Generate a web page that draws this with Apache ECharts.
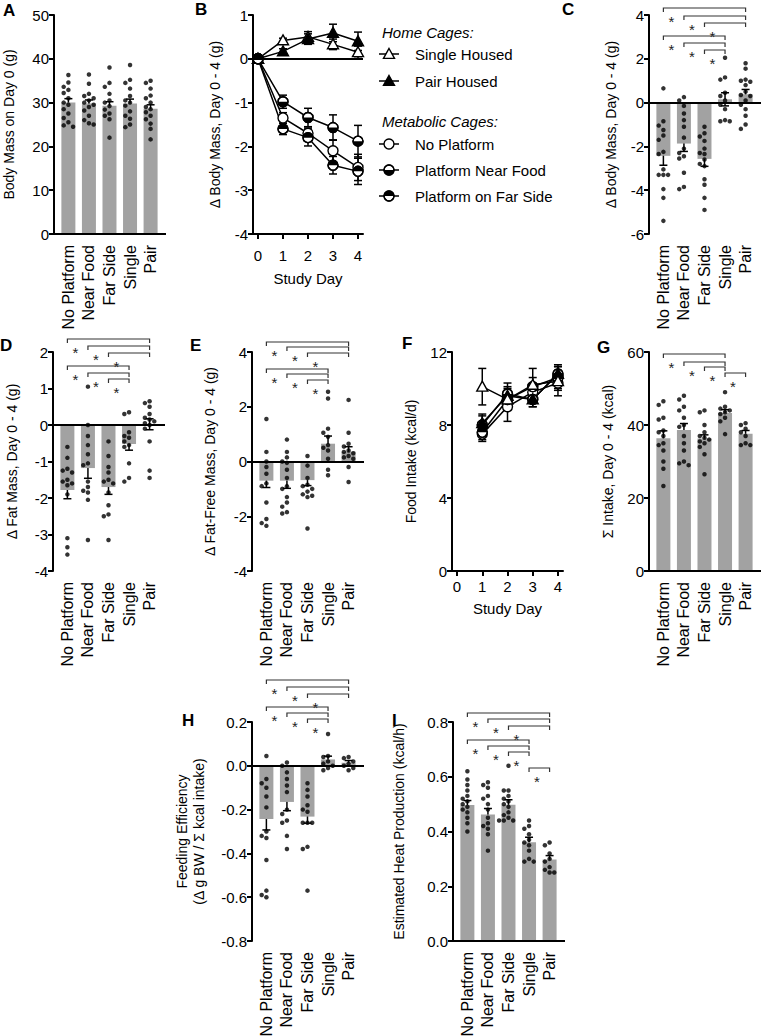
<!DOCTYPE html>
<html>
<head>
<meta charset="utf-8">
<script src="https://cdn.jsdelivr.net/npm/echarts@6/dist/echarts.min.js"></script>
<style>
  html, body { margin: 0; padding: 0; background: #fff; }
  #chart { width: 763px; height: 1036px; }
</style>
</head>
<body>
<div id="chart"></div>
<script>
const groups = ['No Platform', 'Near Food', 'Far Side', 'Single', 'Pair']
const days = [0, 1, 2, 3, 4]
const intakeDays = [1, 2, 3, 4]

// A - body mass day 0
const day0Mass = [30.0, 29.8, 29.3, 29.8, 28.6]
const day0MassSem = [0.9, 0.8, 0.9, 1.0, 0.9]
const day0MassDots = [
  [36.3, 34.6, 33.6, 32.9, 32.2, 31.0, 30.0, 29.5, 28.5, 27.5, 26.5, 25.5, 24.8, 24.5],
  [36.4, 34.3, 32.0, 31.5, 31.0, 30.5, 30.0, 29.5, 29.0, 28.2, 27.0, 26.0, 25.3, 25.0],
  [38.0, 34.5, 33.6, 32.0, 30.5, 30.0, 29.2, 28.4, 27.5, 27.0, 26.2, 22.0],
  [38.6, 35.2, 34.5, 33.2, 31.5, 30.5, 30.0, 29.3, 28.0, 27.0, 26.3, 25.0, 24.4],
  [35.0, 34.5, 33.2, 31.6, 31.0, 30.0, 29.0, 28.5, 27.8, 27.0, 26.2, 25.2, 24.0, 21.6]
]

// B - body mass change over days
const bwSingle = [0, 0.42, 0.50, 0.33, 0.15]
const bwSingleSem = [0, 0.05, 0.12, 0.12, 0.14]
const bwPair = [0, 0.17, 0.45, 0.59, 0.40]
const bwPairSem = [0, 0.06, 0.12, 0.2, 0.21]
const bwNoPlatform = [0, -1.35, -1.70, -2.10, -2.48]
const bwNoPlatformSem = [0, 0.12, 0.12, 0.25, 0.3]
const bwNearFood = [0, -0.98, -1.34, -1.57, -1.88]
const bwNearFoodSem = [0, 0.15, 0.21, 0.29, 0.36]
const bwFarSide = [0, -1.6, -1.8, -2.43, -2.57]
const bwFarSideSem = [0, 0.13, 0.19, 0.2, 0.3]

// C - body mass change day 0-4
const dMass = [-2.43, -1.87, -2.57, 0.15, 0.38]
const dMassSem = [0.43, 0.36, 0.34, 0.3, 0.22]
const dMassDots = [
  [0.65, -0.85, -1.05, -1.25, -1.5, -1.7, -2.25, -2.35, -3.05, -3.3, -3.3, -3.3, -3.95, -4.35, -5.4],
  [0.25, 0.1, -0.15, -0.5, -0.8, -1.1, -1.6, -2.1, -2.3, -2.45, -2.55, -3.2, -3.85, -3.95],
  [-1.1, -1.4, -1.55, -1.75, -2.1, -2.3, -2.35, -2.6, -2.8, -2.9, -3.5, -3.75, -4.35, -4.9],
  [2.05, 1.15, 1.05, 0.45, 0.3, 0.1, -0.1, -0.3, -0.8, -0.85, -0.85],
  [1.8, 1.55, 1.05, 1.0, 0.95, 0.8, 0.5, 0.35, 0.3, 0.1, -0.1, -0.3, -0.6, -1.0, -1.2]
]

// D - fat mass change
const dFat = [-1.78, -1.18, -1.7, -0.52, 0.02]
const dFatSem = [0.24, 0.28, 0.2, 0.17, 0.15]
const dFatDots = [
  [-0.6, -0.9, -1.2, -1.25, -1.3, -1.5, -1.55, -1.6, -1.65, -1.9, -3.1, -3.35, -3.55],
  [1.05, 0.0, -0.3, -0.55, -0.8, -1.05, -1.1, -1.55, -1.7, -1.8, -1.85, -2.05, -3.15],
  [-0.45, -0.85, -1.15, -1.3, -1.5, -1.55, -1.6, -1.85, -2.2, -2.45, -2.5, -3.15],
  [0.35, 0.3, -0.2, -0.3, -0.35, -0.45, -0.55, -0.6, -1.05, -1.45, -1.55],
  [0.65, 0.6, 0.5, 0.3, 0.2, 0.15, 0.1, 0.05, 0.0, -0.1, -0.45, -1.25, -1.45]
]

// E - fat-free mass change
const dLean = [-0.7, -0.7, -0.68, 0.65, 0.36]
const dLeanSem = [0.25, 0.28, 0.2, 0.28, 0.18]
const dLeanDots = [
  [1.55, 0.35, 0.0, -0.2, -0.45, -0.8, -0.9, -1.5, -2.1, -2.25, -2.35],
  [0.8, 0.35, 0.15, 0.0, -0.05, -0.3, -0.6, -0.9, -1.0, -1.3, -1.5, -1.65, -1.85, -1.9],
  [0.2, -0.15, -0.6, -0.85, -0.9, -1.0, -1.1, -1.2, -1.25, -1.3, -2.45],
  [2.55, 2.3, 1.2, 1.05, 0.9, 0.6, 0.5, 0.4, 0.1, -0.3, -0.5],
  [2.25, 1.05, 0.65, 0.55, 0.4, 0.35, 0.3, 0.2, 0.15, 0.1, -0.2, -0.75]
]

// F - daily food intake
const fiSingle = [10.1, 9.4, 10.2, 10.4]
const fiSingleSem = [1.0, 0.6, 0.9, 0.5]
const fiPair = [8.1, 9.6, 9.4, 10.8]
const fiPairSem = [0.5, 0.5, 0.4, 0.4]
const fiNoPlatform = [7.5, 9.0, 9.8, 10.3]
const fiNoPlatformSem = [0.4, 0.8, 0.5, 0.7]
const fiNearFood = [8.0, 9.7, 9.4, 10.8]
const fiNearFoodSem = [0.5, 0.6, 0.4, 0.5]
const fiFarSide = [7.6, 9.4, 10.1, 10.6]
const fiFarSideSem = [0.4, 0.5, 0.5, 0.6]

// G - cumulative intake
const sumIntake = [36.4, 38.6, 36.3, 43.3, 37.6]
const sumIntakeSem = [2.0, 1.8, 1.0, 0.9, 0.9]
const sumIntakeDots = [
  [46.5, 45.5, 42, 41.5, 38.5, 38, 37, 35, 34.5, 33, 30, 28, 23.3],
  [48, 47, 45, 44, 42, 40, 39.5, 37, 35, 33, 30, 29.5, 29],
  [44, 43.5, 40, 38, 37, 36.5, 36, 35.5, 35, 34, 32, 26.5],
  [49, 45, 44.5, 44, 43.5, 43, 42, 41, 37.5],
  [40.5, 40, 39, 38, 37, 35, 34.5, 34.5]
]

// H - feeding efficiency
const feedEff = [-0.243, -0.165, -0.232, 0.029, 0.014]
const feedEffSem = [0.05, 0.04, 0.03, 0.015, 0.01]
const feedEffDots = [
  [0.045, -0.06, -0.08, -0.1, -0.14, -0.19, -0.3, -0.32, -0.33, -0.43, -0.57, -0.59, -0.6],
  [0.015, 0.0, -0.03, -0.06, -0.09, -0.12, -0.2, -0.22, -0.25, -0.26, -0.32, -0.38],
  [-0.08, -0.11, -0.14, -0.18, -0.2, -0.21, -0.26, -0.26, -0.26, -0.37, -0.38, -0.57],
  [0.145, 0.045, 0.04, 0.02, 0.01, 0.0, -0.01, -0.02],
  [0.04, 0.035, 0.02, 0.01, 0.0, -0.01, -0.02]
]

// I - heat production
const heatProd = [0.497, 0.462, 0.498, 0.361, 0.298]
const heatProdSem = [0.016, 0.022, 0.018, 0.018, 0.014]
const heatProdDots = [
  [0.62, 0.59, 0.57, 0.55, 0.53, 0.52, 0.51, 0.5, 0.49, 0.48, 0.47, 0.45, 0.43, 0.40],
  [0.58, 0.57, 0.56, 0.53, 0.52, 0.5, 0.48, 0.45, 0.43, 0.42, 0.41, 0.39, 0.33],
  [0.64, 0.55, 0.55, 0.53, 0.52, 0.51, 0.5, 0.49, 0.47, 0.46, 0.45, 0.44, 0.44, 0.44],
  [0.44, 0.42, 0.41, 0.39, 0.37, 0.36, 0.35, 0.33, 0.3, 0.29, 0.29],
  [0.36, 0.35, 0.32, 0.3, 0.29, 0.27, 0.26, 0.25, 0.25]
]

// significant comparisons [from, to]
const sigAll = [[0, 4], [1, 4], [2, 4], [0, 3], [1, 3], [2, 3]]
const sigIntake = [[0, 3], [1, 3], [2, 3], [3, 4]]
const sigHeat = [[0, 4], [1, 4], [2, 4], [0, 3], [1, 3], [2, 3], [3, 4]]

const FONT = 'Liberation Sans, Arial, Helvetica, sans-serif'
const PLOT_H = 219
const BAR_W = 112
const X_MIN = -0.7
const X_MAX = 4.75

const grids = []
const xAxes = []
const yAxes = []
const series = []
const graphics = []

function yAxisOf (gi, p) {
  return {
    gridIndex: gi, type: 'value', min: p.min, max: p.max, interval: p.interval,
    name: p.name, nameLocation: 'middle', nameGap: p.nameGap, nameMoveOverlap: false,
    nameTextStyle: { fontSize: 14, color: '#000', fontFamily: FONT, lineHeight: 17 },
    axisLine: { show: true, onZero: false, lineStyle: { color: '#000', width: 2 } },
    axisTick: { show: true, length: 5, lineStyle: { color: '#000', width: 2 } },
    axisLabel: { fontSize: 15, color: '#000', margin: 5, fontFamily: FONT, formatter: p.fmt || (v => String(v)) },
    splitLine: { show: false }
  }
}

// spread dots sideways so they don't overlap (beeswarm layout)
function swarm (dots, yMin, yMax) {
  const py = PLOT_H / (yMax - yMin)
  const bandPx = BAR_W / (X_MAX - X_MIN)
  const d = 4.7
  const pts = []
  dots.forEach((vals, g) => {
    const placed = []
    vals.slice().sort((a, b) => b - a).forEach(v => {
      const y = v * py
      for (let k = 0; k < 40; k++) {
        const dx = (k % 2 ? -1 : 1) * Math.ceil(k / 2) * d
        if (placed.every(q => (q[0] - dx) ** 2 + (q[1] - y) ** 2 >= d * d)) {
          placed.push([dx, y])
          pts.push([g + dx / bandPx, v])
          break
        }
      }
    })
  })
  return pts
}

function errorBar (capW) {
  return function (params, api) {
    const x = api.value(0)
    if (api.value(2) === api.value(1)) return null
    const lo = api.coord([x, api.value(1)])
    const hi = api.coord([x, api.value(2)])
    const style = { stroke: '#000', lineWidth: 1.5 }
    return {
      type: 'group',
      children: [
        { type: 'line', shape: { x1: lo[0], y1: lo[1], x2: hi[0], y2: hi[1] }, style },
        { type: 'line', shape: { x1: lo[0] - capW, y1: lo[1], x2: lo[0] + capW, y2: lo[1] }, style },
        { type: 'line', shape: { x1: hi[0] - capW, y1: hi[1], x2: hi[0] + capW, y2: hi[1] }, style }
      ]
    }
  }
}

function bracketRender (offsets, yMax) {
  return function (params, api) {
    const a = api.coord([api.value(0), yMax])
    const b = api.coord([api.value(1), yMax])
    const y = a[1] + offsets[api.value(2)]
    return {
      type: 'group',
      children: [
        { type: 'polyline', shape: { points: [[a[0], y + 4], [a[0], y], [b[0], y], [b[0], y + 4]] }, style: { stroke: '#333', lineWidth: 1.2, fill: null } },
        { type: 'text', x: a[0] + 8, y: y + 13, style: { text: '*', fill: '#222', fontSize: 15, fontFamily: FONT, align: 'center', verticalAlign: 'middle' } }
      ]
    }
  }
}

function barPanel (p) {
  const gi = grids.length
  grids.push({ left: p.left, top: p.top, width: BAR_W, height: PLOT_H, outerBoundsMode: 'none' })
  xAxes.push({
    gridIndex: gi, type: 'value', min: X_MIN, max: X_MAX,
    axisLine: { show: false, onZero: false }, axisTick: { show: false }, splitLine: { show: false },
    axisLabel: {
      customValues: [0, 1, 2, 3, 4], rotate: 90, margin: 11, fontSize: 16, color: '#000', fontFamily: FONT,
      formatter: v => groups[Math.round(v)]
    }
  })
  yAxes.push(yAxisOf(gi, p))
  series.push({
    type: 'bar', xAxisIndex: gi, yAxisIndex: gi, barWidth: 14, silent: true,
    data: p.mean.map((m, i) => [i, m]),
    itemStyle: { color: '#a2a2a2' },
    markLine: {
      silent: true, symbol: 'none', label: { show: false },
      lineStyle: { color: '#000', width: 2, type: 'solid' },
      data: [{ yAxis: 0 }]
    }
  })
  series.push({
    type: 'custom', xAxisIndex: gi, yAxisIndex: gi, silent: true,
    renderItem: errorBar(4),
    data: p.mean.map((m, i) => [i, m - p.sem[i], m + p.sem[i]])
  })
  series.push({
    type: 'scatter', xAxisIndex: gi, yAxisIndex: gi, silent: true,
    symbolSize: 4.5, itemStyle: { color: '#000' },
    data: swarm(p.dots, p.min, p.max)
  })
  if (p.sig) {
    series.push({
      type: 'custom', xAxisIndex: gi, yAxisIndex: gi, silent: true, clip: false, z: 5,
      renderItem: bracketRender(p.offsets, p.max),
      data: p.sig.map((s, k) => [s[0], s[1], k])
    })
  }
}

function markerShapes (kind, x, y) {
  const st = { stroke: '#000', lineWidth: 1.4 }
  if (kind === 'triOpen' || kind === 'triFill') {
    const r = 5.5
    return [{
      type: 'polygon',
      shape: { points: [[x, y - r], [x + r, y + r * 0.8], [x - r, y + r * 0.8]] },
      style: Object.assign({}, st, { fill: kind === 'triFill' ? '#000' : '#fff' })
    }]
  }
  const r = 5
  const out = [{ type: 'circle', shape: { cx: x, cy: y, r }, style: Object.assign({}, st, { fill: '#fff' }) }]
  if (kind === 'halfBottom' || kind === 'halfTop') {
    const s = kind === 'halfBottom' ? 0 : Math.PI
    out.push({ type: 'sector', shape: { cx: x, cy: y, r0: 0, r, startAngle: s, endAngle: s + Math.PI, clockwise: true }, style: { fill: '#000' } })
    out.push({ type: 'circle', shape: { cx: x, cy: y, r }, style: Object.assign({}, st, { fill: null }) })
  }
  return out
}

function markerRender (kind) {
  return function (params, api) {
    const c = api.coord([api.value(0), api.value(1)])
    return { type: 'group', children: markerShapes(kind, c[0], c[1]) }
  }
}

function linePanel (p) {
  const gi = grids.length
  grids.push({ left: p.left, top: p.top, width: p.width, height: PLOT_H, outerBoundsMode: 'none' })
  xAxes.push({
    gridIndex: gi, type: 'value', min: -0.2, max: 4.2,
    name: 'Study Day', nameLocation: 'middle', nameGap: p.xNameGap, nameMoveOverlap: false,
    nameTextStyle: { fontSize: 15, color: '#000', fontFamily: FONT },
    axisLine: { show: true, onZero: false, lineStyle: { color: '#000', width: 2 } },
    axisTick: { show: true, customValues: [0, 1, 2, 3, 4], length: 5, lineStyle: { color: '#000', width: 2 } },
    axisLabel: { customValues: [0, 1, 2, 3, 4], margin: p.xLabelMargin, fontSize: 15, color: '#000', fontFamily: FONT },
    splitLine: { show: false }
  })
  yAxes.push(yAxisOf(gi, p))
  p.lines.forEach((ln, k) => {
    const s = {
      type: 'line', xAxisIndex: gi, yAxisIndex: gi, silent: true, symbol: 'none',
      lineStyle: { color: '#000', width: 1.5 },
      data: p.x.map((d, i) => [d, ln.v[i]])
    }
    if (k === 0 && p.zeroLine) {
      s.markLine = {
        silent: true, symbol: 'none', label: { show: false },
        lineStyle: { color: '#000', width: 2, type: 'solid' },
        data: [{ yAxis: 0 }]
      }
    }
    series.push(s)
  })
  p.lines.forEach(ln => {
    series.push({
      type: 'custom', xAxisIndex: gi, yAxisIndex: gi, silent: true, z: 3,
      renderItem: errorBar(4),
      data: p.x.map((d, i) => [d, ln.v[i] - ln.sem[i], ln.v[i] + ln.sem[i]])
    })
  })
  p.lines.forEach(ln => {
    series.push({
      type: 'custom', xAxisIndex: gi, yAxisIndex: gi, silent: true, z: 4, clip: false,
      renderItem: markerRender(ln.kind),
      data: p.x.map((d, i) => [d, ln.v[i]])
    })
  })
}

// A
barPanel({ left: 54, top: 15, min: 0, max: 50, interval: 10, name: 'Body Mass on Day 0 (g)', nameGap: 37,
  mean: day0Mass, sem: day0MassSem, dots: day0MassDots })

// B
linePanel({ left: 253, top: 15, width: 110, min: -4, max: 1, interval: 1, name: 'Δ Body Mass, Day 0 - 4 (g)', nameGap: 30,
  xNameGap: 37, xLabelMargin: 14, zeroLine: true, x: days,
  lines: [
    { v: bwSingle, sem: bwSingleSem, kind: 'triOpen' },
    { v: bwPair, sem: bwPairSem, kind: 'triFill' },
    { v: bwNoPlatform, sem: bwNoPlatformSem, kind: 'open' },
    { v: bwNearFood, sem: bwNearFoodSem, kind: 'halfBottom' },
    { v: bwFarSide, sem: bwFarSideSem, kind: 'halfTop' }
  ] })

// C
barPanel({ left: 649, top: 15, min: -6, max: 4, interval: 2, name: 'Δ Body Mass, Day 0 - 4 (g)', nameGap: 30,
  mean: dMass, sem: dMassSem, dots: dMassDots, sig: sigAll, offsets: [-7, 1, 8, 21, 28, 35] })

// D
barPanel({ left: 53, top: 352, min: -4, max: 2, interval: 1, name: 'Δ Fat Mass, Day 0 - 4 (g)', nameGap: 33,
  mean: dFat, sem: dFatSem, dots: dFatDots, sig: sigAll, offsets: [-13, -6, 1, 14, 21, 27] })

// E
barPanel({ left: 252, top: 352, min: -4, max: 4, interval: 2, name: 'Δ Fat-Free Mass, Day 0 - 4 (g)', nameGap: 34,
  mean: dLean, sem: dLeanSem, dots: dLeanDots, sig: sigAll, offsets: [-10, -5, 1, 17, 22, 28] })

// F
linePanel({ left: 452, top: 352, width: 111, min: 0, max: 12, interval: 4, name: 'Food Intake (kcal/d)', nameGap: 33,
  xNameGap: 30, xLabelMargin: 8, zeroLine: false, x: intakeDays,
  lines: [
    { v: fiNoPlatform, sem: fiNoPlatformSem, kind: 'open' },
    { v: fiNearFood, sem: fiNearFoodSem, kind: 'halfBottom' },
    { v: fiFarSide, sem: fiFarSideSem, kind: 'halfTop' },
    { v: fiPair, sem: fiPairSem, kind: 'triFill' },
    { v: fiSingle, sem: fiSingleSem, kind: 'triOpen' }
  ] })

// G
barPanel({ left: 649, top: 352, min: 0, max: 60, interval: 20, name: 'Σ Intake, Day 0 - 4 (kcal)', nameGap: 33,
  mean: sumIntake, sem: sumIntakeSem, dots: sumIntakeDots, sig: sigIntake, offsets: [2, 10, 15, 21] })

// H
barPanel({ left: 252, top: 722, min: -0.8, max: 0.2, interval: 0.2, name: 'Feeding Efficiency\n(Δ g BW / Σ kcal intake)', nameGap: 45,
  fmt: v => v.toFixed(1), mean: feedEff, sem: feedEffSem, dots: feedEffDots, sig: sigAll, offsets: [-42, -35, -28, -15, -9, -3] })

// I
barPanel({ left: 453, top: 722, min: 0, max: 0.8, interval: 0.2, name: 'Estimated Heat Production (kcal/h)', nameGap: 46,
  fmt: v => v.toFixed(1), mean: heatProd, sem: heatProdSem, dots: heatProdDots, sig: sigHeat, offsets: [-9, -3, 4, 18, 24, 30, 46] })

// panel letters
const letters = [['A', 3, 2], ['B', 195, 1], ['C', 562, 1], ['D', 0, 337], ['E', 190, 337], ['F', 402, 335], ['G', 597, 339], ['H', 182, 712], ['I', 392, 712]]
letters.forEach(l => {
  graphics.push({ type: 'text', x: l[1], y: l[2], style: { text: l[0], fontSize: 17, fontWeight: 'bold', fontFamily: FONT, fill: '#000', verticalAlign: 'top' } })
})

// legend for B
const legendHeads = [['Home Cages:', 32], ['Metabolic Cages:', 121]]
legendHeads.forEach(h => {
  graphics.push({ type: 'text', x: 382, y: h[1], style: { text: h[0], fontSize: 15, fontStyle: 'italic', fontFamily: FONT, fill: '#000', verticalAlign: 'middle' } })
})
const legendItems = [['Single Housed', 'triOpen', 54], ['Pair Housed', 'triFill', 81], ['No Platform', 'open', 144], ['Platform Near Food', 'halfBottom', 170], ['Platform on Far Side', 'halfTop', 196]]
legendItems.forEach(it => {
  graphics.push({ type: 'line', shape: { x1: 379, y1: it[2], x2: 399, y2: it[2] }, style: { stroke: '#000', lineWidth: 1.5 } })
  graphics.push({ type: 'group', children: markerShapes(it[1], 389, it[2]) })
  graphics.push({ type: 'text', x: 415, y: it[2], style: { text: it[0], fontSize: 15, fontFamily: FONT, fill: '#000', verticalAlign: 'middle' } })
})

const chart = echarts.init(document.getElementById('chart'), null, { renderer: 'svg' })
chart.setOption({
  animation: false,
  backgroundColor: '#fff',
  textStyle: { fontFamily: FONT },
  grid: grids,
  xAxis: xAxes,
  yAxis: yAxes,
  series,
  graphic: graphics
})
</script>
</body>
</html>
